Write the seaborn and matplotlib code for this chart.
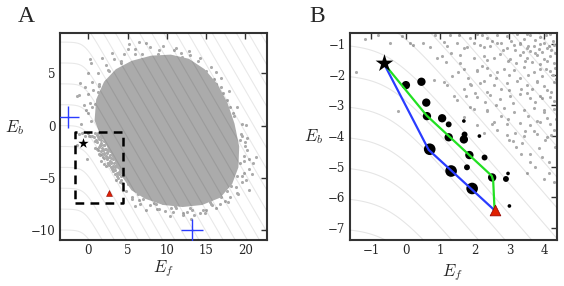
import numpy as np
import matplotlib
matplotlib.use("Agg")
import matplotlib.pyplot as plt
import seaborn as sns

# ---- data ----
# dense core of the gray cloud (outline), panel A
core_ef = [0.8, 1.0, 2.0, 3.5, 5.5, 8.0, 10.5, 12.8, 14.8, 16.4, 17.7, 18.6, 19.2, 19.1,
           18.3, 16.8, 14.5, 12.0, 9.5, 7.2, 5.5, 4.4, 3.6, 2.8, 1.6]
core_eb = [0.5, 2.5, 4.2, 5.4, 6.2, 6.7, 6.8, 6.4, 5.4, 4.0, 2.2, 0.2, -2.0, -4.0,
           -5.6, -6.9, -7.6, -7.8, -7.6, -7.0, -6.2, -5.0, -3.8, -2.4, -1.0]

# sparse fringe of the cloud (outside the dense core)
fringe_ef = [7.3, 5.1, 0.4, 0.0, -0.4, -1.2, 1.3, 2.5, 4.2, 5.9, 6.8, 2.1, 0.85, 0.0, -0.9,
             0.2, -1.0, -1.5, 8.7, 10.4, 12.5, 13.8, 15.0, 16.3, 17.2, 18.0, 18.4, 8.9,
             11.9, 13.3, 14.2, 15.5, 16.6, 17.6, 18.6, 20.1, 21.4, 21.0, 20.2, 19.3, 20.5,
             19.3, 18.7, 18.2, 20.5, 18.8, 20.1, 13.1, 11.2, 9.5, 7.4, 14.2, 15.0, 16.7,
             18.0, 16.9, 14.6, 12.1, 10.4, 9.7, 16.3, 15.5, 14.2, 5.5, 6.4, 3.5, 5.5, 7.5,
             9.5, 11.5, 13.5, 15.2, 16.5, 17.6, 18.5, 18.9, 18.7, 17.9, 16.8, 14.8, 12.5,
             10.2, 8.0, 6.2, 5.0, 2.6, 1.8, 3.8, 1.2, 2.9, 4.0, 6.0, 9.8, 12.0, 14.4,
             16.0, 19.4, 19.8, 19.6, 19.0, 17.4, 13.0, 11.0, 8.6, 7.0, 1.4, 3.2, 4.8, 7.0,
             10.9, 13.0, 16.9, 19.9, 20.8, 17.0, 15.8, 12.6, 8.8, 5.9, 0.6, 2.3,
             0.0, 0.5, 1.2, 2.2, 3.3, 4.5, 6.0, 7.8, 9.5, 11.2, 12.8, 14.2, 15.6, 16.9,
             17.9, 18.9, 19.6, 20.2, 20.4, -0.3, 0.2, -0.6, 1.7, 3.0, 5.2, 6.5,
             19.8, 19.5, 18.9, 17.8, 16.2, 14.8, 13.5, 12.0, 10.8, 9.0, 7.8, 6.6, 5.6, 4.8,
             19.6, 20.0, 19.8, 18.9, 17.6, 15.6, 13.2, 10.5, 8.4, 6.3, 5.0, 16.2, 14.0,
             11.8, 9.0, 6.8, 4.2, 2.6, 1.4, 0.5, 1.1, 0.4]
fringe_eb = [7.9, 7.3, 6.0, 5.0, 3.7, 2.9, 4.0, 5.3, 6.0, 6.9, 6.4, 3.1, 2.1, 1.2, 0.2,
             6.4, 4.1, 2.8, 6.1, 6.6, 6.1, 5.65, 5.2, 4.0, 3.1, 1.8, 1.2, 6.9,
             6.6, 5.3, 4.4, 4.2, 2.8, 2.5, 0.9, 0.06, -3.0, -3.6, -2.3, -1.4, -4.2,
             -3.6, -1.7, -5.8, -6.2, -5.9, -5.2, -8.9, -7.9, -7.45, -8.1, -8.4, -8.1, -7.5,
             -6.8, -6.8, -8.1, -8.6, -8.7, -8.2, -6.2, -7.3, -7.1, -6.8, -7.1, 3.3, 4.8, 5.7,
             6.0, 5.9, 5.2, 4.0, 2.9, 1.2, -0.5, -2.3, -4.0, -5.3, -6.3, -7.0, -7.4,
             -7.2, -6.8, -6.0, -4.6, 1.5, 0.6, 2.6, 3.2, 4.4, 5.0, 5.6, 6.4, 6.3, 5.0,
             4.5, -0.8, -2.9, -4.8, -6.6, -7.2, -7.9, -7.7, -7.5, -7.0, 1.9, 4.6, 5.6, 6.2,
             7.2, 6.8, 3.7, -1.6, -4.6, -6.1, -7.6, -8.3, -8.0, -7.7, 3.4, 4.3,
             3.0, 4.2, 5.0, 5.8, 6.4, 6.9, 7.3, 7.5, 7.6, 7.4, 7.1, 6.5, 5.6, 4.6,
             3.3, 1.8, 0.2, -1.2, -3.2, 1.5, 2.2, 2.0, 6.5, 7.0, 7.8, 8.0,
             -4.5, -5.4, -6.5, -7.3, -7.9, -8.4, -8.6, -8.4, -8.3, -8.0, -7.6, -7.5, -7.0, -6.3,
             -1.0, -2.0, -3.4, -4.8, -6.3, -7.5, -8.1, -7.9, -7.4, -6.6, -5.6, 5.1, 6.2,
             7.0, 7.2, 6.9, 6.2, 5.2, 3.8, 1.8, 0.9, 0.4]

# gray points in the lower-left part of the cloud (region of panel B)
pts_ef = [1.28, 2.05, 2.34, 2.63, 2.92, 3.21, 3.41, 3.60, 3.89, 4.18, 4.37,
          3.05, 3.30, 3.75, 4.00, 4.25, 3.50, 4.05,
          1.18, 1.47, 1.76, 2.15, 2.44, 2.63, 2.92, 3.12, 3.31, 3.50, 3.70, 3.89, 4.08, 4.28,
          3.60, 3.95, 4.20, 3.40, 2.80,
          1.04, 1.57, 1.96, 2.25, 2.54, 2.73, 3.02, 3.31, 3.50, 3.79, 3.99, 4.18, 4.37,
          3.65, 3.90, 4.30, 4.10, 3.20,
          1.67, 2.05, 2.34, 2.63, 2.83, 3.12, 3.41, 3.70, 3.89, 4.18, 4.32,
          3.55, 3.95, 4.25, 3.00,
          1.09, 1.86, 2.25, 2.54, 2.92, 3.21, 3.50, 3.79, 3.99, 4.28,
          3.65, 4.10, 3.35, 2.75,
          1.38, 2.05, 2.44, 2.73, 3.02, 3.31, 3.60, 3.89, 4.18,
          3.75, 4.30, 3.10,
          1.96, 2.34, 2.83, 3.12, 3.41, 3.70, 3.99, 4.28, 3.55, 4.10,
          2.54, 2.92, 3.31, 3.60, 3.89, 4.18, 4.30, 3.70,
          2.92, 3.41, 3.80, 4.08,
          3.37, 3.61, 3.95, 4.14, 4.29, 4.33, 3.17, 3.75, 2.98, 3.51, 4.04, 3.20, 3.85, 4.15, 3.60,
          -0.46, 0.22, 0.70, 1.09, 1.67, 1.96, 2.25, 2.34, 1.57, 2.05, 0.80, 1.18, 1.67, 2.15,
          2.34, 1.47, 1.86, 2.34, -0.22, 1.67, 2.05, 2.25,
          -1.19, -1.46, 0.13, 1.30, 1.50, 1.80, 2.00, 2.45, 2.60, 2.75, 2.50, 2.95, 2.20,
          1.15, 0.90,
          2.50, 2.75, 3.15, 3.55, 3.85, 4.32, 4.15, 2.95, 3.45, 3.75, 4.05, 4.35, 3.80, 3.30,
          2.60, 3.00, 3.50, 3.95, 4.20, 4.00, 3.80, 4.35, 4.20, 3.45, 2.65, 3.10, 2.20, 1.85,
          1.55, 0.85, 0.50, -0.10, -0.80, 1.35, 1.90, 2.30, 1.75, 3.35, 4.00]
pts_eb = [-0.72, -0.66, -0.80, -0.69, -0.75, -0.68, -0.84, -0.71, -0.77, -0.66, -0.81,
          -0.90, -0.95, -0.88, -0.95, -0.90, -0.68, -0.70,
          -1.05, -0.98, -1.10, -1.02, -1.08, -0.97, -1.12, -1.04, -0.99, -1.14, -1.06, -1.00, -1.13, -1.03,
          -1.22, -1.25, -1.20, -1.25, -1.20,
          -1.40, -1.35, -1.47, -1.38, -1.44, -1.33, -1.48, -1.37, -1.45, -1.36, -1.50, -1.39, -1.43,
          -1.60, -1.65, -1.62, -1.55, -1.62,
          -1.82, -1.88, -1.78, -1.90, -1.80, -1.86, -1.76, -1.92, -1.81, -1.87, -1.79,
          -2.00, -2.05, -2.02, -2.02,
          -2.25, -2.31, -2.22, -2.34, -2.27, -2.20, -2.32, -2.25, -2.36, -2.23,
          -2.45, -2.50, -2.48, -2.45,
          -2.68, -2.74, -2.66, -2.78, -2.70, -2.64, -2.76, -2.69, -2.73,
          -2.90, -2.85, -2.92,
          -3.12, -3.18, -3.10, -3.20, -3.14, -3.08, -3.22, -3.13, -3.35, -3.40,
          -3.55, -3.62, -3.56, -3.64, -3.53, -3.60, -3.80, -3.82,
          -3.95, -4.00, -3.92, -4.02,
          -4.24, -4.57, -4.67, -5.22, -5.49, -4.35, -3.91, -5.00, -4.13, -5.22, -4.13, -4.35, -4.40, -4.85, -4.85,
          -0.98, -1.03, -1.09, -0.92, -1.14, -0.98, -1.09, -1.52, -1.63, -1.85, -2.17, -2.34, -2.45, -2.28,
          -2.55, -2.83, -3.04, -3.15, -3.17, -3.37, -3.64, -3.91,
          -0.85, -1.90, -0.96, -1.30, -1.90, -2.10, -2.60, -2.00, -3.00, -3.35, -3.60, -3.45, -1.70,
          -1.60, -1.45,
          -0.90, -0.95, -1.20, -1.05, -1.15, -1.30, -1.05, -1.55, -1.55, -1.30, -1.80, -2.15, -2.20, -2.10,
          -2.10, -2.50, -2.60, -2.75, -2.55, -3.15, -3.50, -3.45, -3.95, -3.85, -3.80, -4.15, -0.70, -0.80,
          -0.72, -0.70, -0.95, -0.75, -0.72, -2.05, -2.35, -2.90, -2.70, -4.60, -5.40]

# black circles (panel B) and their size class 1..4
circ_ef = [0.00, 0.45, 0.59, 0.61, 1.05, 1.24, 1.24, 1.68, 1.70, 1.68, 2.13, 1.84, 2.28,
           1.77, 0.69, 1.31, 1.92, 2.50, 2.90, 2.96, 3.00]
circ_eb = [-2.34, -2.23, -2.91, -3.35, -3.42, -3.62, -4.04, -4.11, -3.95, -3.51, -4.00,
           -4.62, -4.70, -5.02, -4.43, -5.14, -5.71, -5.35, -5.40, -5.22, -6.28]
circ_w = [3, 3, 3, 3, 3, 2, 3, 3, 2, 1, 1, 3, 2, 2, 4, 4, 4, 3, 2, 1, 1]

start = (-0.64, -1.63)
end = (2.57, -6.42)
blue_ef = [-0.64, 0.66, 2.57]
blue_eb = [-1.63, -4.45, -6.42]
green_ef = [-0.64, 0.60, 2.49, 2.53, 2.57]
green_eb = [-1.63, -3.33, -5.30, -5.45, -6.42]
cross_ef = [-2.55, 13.2]
cross_eb = [0.85, -10.0]

box_x = (-1.63, 4.38)
box_y = (-7.39, -0.63)

# ---- style ----
sns.set_style("white")
plt.rcParams["font.family"] = ["DejaVu Serif"]
plt.rcParams["mathtext.fontset"] = "cm"
plt.rcParams["xtick.direction"] = "in"
plt.rcParams["ytick.direction"] = "in"
plt.rcParams["xtick.top"] = True
plt.rcParams["ytick.right"] = True

gray = "#ababab"
blue = "#2a3cff"
green = "#22e022"

fig = plt.figure(figsize=(5.64, 2.86), dpi=100)
axA = fig.add_axes([0.1064, 0.1608, 0.3665, 0.7249])
axB = fig.add_axes([0.620, 0.1608, 0.3676, 0.7249])


def background(ax, xlim, ylim, levels, alpha):
    # iso-lines of the energy landscape
    X, Y = np.meshgrid(np.linspace(xlim[0], xlim[1], 300), np.linspace(ylim[0], ylim[1], 300))
    F = Y + 0.65 * np.logaddexp(0, (X + 0.5) / 0.5)
    ax.contour(X, Y, F, levels=levels, colors="k", alpha=alpha, linewidths=0.8,
               linestyles="solid", zorder=3)


# ---- panel A ----
xlimA, ylimA = (-3.6, 22.7), (-10.96, 8.9)
axA.fill(core_ef, core_eb, color=gray, lw=0, zorder=1)
sns.scatterplot(x=fringe_ef + pts_ef, y=fringe_eb + pts_eb, ax=axA, s=5, color=gray,
                linewidth=0, zorder=2, legend=False)
background(axA, xlimA, ylimA, np.arange(-12, 40, 2), 0.09)
axA.plot([box_x[0], box_x[1], box_x[1], box_x[0], box_x[0]],
         [box_y[0], box_y[0], box_y[1], box_y[1], box_y[0]],
         ls=(0, (3.5, 2.5)), color="k", lw=1.8, zorder=5)
sns.scatterplot(x=cross_ef, y=cross_eb, ax=axA, marker="+", s=260, color=blue,
                linewidth=1.0, zorder=6, legend=False)
sns.scatterplot(x=[start[0]], y=[start[1]], ax=axA, marker="*", s=60, color="k",
                linewidth=0, zorder=6, legend=False)
sns.scatterplot(x=[end[0]], y=[end[1]], ax=axA, marker="^", s=18, color="#e02000",
                edgecolor="#900000", linewidth=0.4, zorder=6, legend=False)
axA.set_xlim(xlimA)
axA.set_ylim(ylimA)
axA.set_xticks([0, 5, 10, 15, 20])
axA.set_yticks([-10, -5, 0, 5])

# ---- panel B ----
xlimB, ylimB = box_x, box_y
sns.scatterplot(x=fringe_ef + pts_ef, y=fringe_eb + pts_eb, ax=axB, s=5, color=gray,
                linewidth=0, zorder=2, legend=False)
background(axB, xlimB, ylimB, np.arange(-8, 7, 1), 0.10)
sns.lineplot(x=blue_ef, y=blue_eb, ax=axB, sort=False, estimator=None, color=blue,
             lw=1.6, zorder=5)
sns.lineplot(x=green_ef, y=green_eb, ax=axB, sort=False, estimator=None, color=green,
             lw=1.6, zorder=5)
sns.scatterplot(x=circ_ef, y=circ_eb, size=circ_w, sizes={1: 7, 2: 18, 3: 36, 4: 70},
                ax=axB, color="k", linewidth=0, zorder=4, legend=False)
sns.scatterplot(x=[start[0]], y=[start[1]], ax=axB, marker="*", s=180, color="k",
                linewidth=0, zorder=6, legend=False)
sns.scatterplot(x=[end[0]], y=[end[1]], ax=axB, marker="^", s=60, color="#e02000",
                edgecolor="#900000", linewidth=0.5, zorder=6, legend=False)
axB.set_xlim(xlimB)
axB.set_ylim(ylimB)
axB.set_xticks([-1, 0, 1, 2, 3, 4])
axB.set_yticks([-7, -6, -5, -4, -3, -2, -1])

for ax, ylab, xlab in [(axA, (-0.218, 0.54), (0.5, -0.09)), (axB, (-0.174, 0.50), (0.493, -0.105))]:
    for sp in ax.spines.values():
        sp.set_color("#333333")
        sp.set_linewidth(1.5)
    ax.tick_params(length=4, width=1, color="#333333", labelsize=8.5, pad=3)
    ax.set_xlabel("$E_f$", fontsize=12)
    ax.set_ylabel("$E_b$", fontsize=12, rotation=0, va="center", ha="center")
    ax.xaxis.set_label_coords(*xlab)
    ax.yaxis.set_label_coords(*ylab)

fig.text(0.047, 0.942, "A", fontsize=17, family="Liberation Serif", ha="center", va="center")
fig.text(0.562, 0.942, "B", fontsize=17, family="Liberation Serif", ha="center", va="center")

fig.savefig("out.png", dpi=100)
